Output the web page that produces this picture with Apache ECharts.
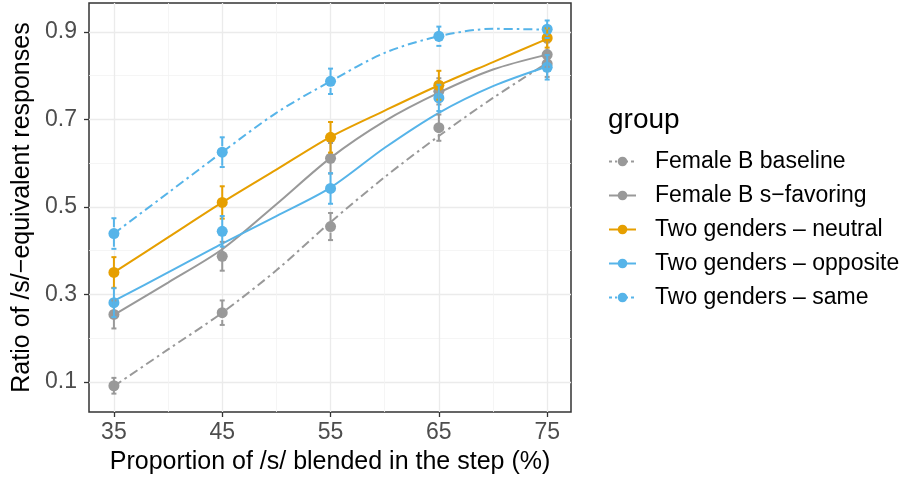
<!DOCTYPE html>
<html>
<head>
<meta charset="utf-8">
<script src="https://cdn.jsdelivr.net/npm/echarts@6/dist/echarts.min.js"></script>
<style>
  html, body { margin: 0; padding: 0; background: #fff; }
  #chart { width: 906px; height: 480px; }
</style>
</head>
<body>
<div id="chart"></div>
<script>
// 数据
var groups = ['Female B baseline', 'Female B s\u2212favoring', 'Two genders \u2013 neutral', 'Two genders \u2013 opposite', 'Two genders \u2013 same'];
var steps = [35, 45, 55, 65, 75];
var fitSteps = [35, 40, 45, 50, 55, 60, 65, 70, 75];
var majorX = [35, 45, 55, 65, 75];
var minorX = [40, 50, 60, 70];
var majorY = [0.1, 0.3, 0.5, 0.7, 0.9];
var minorY = [0.2, 0.4, 0.6, 0.8];

// 各组观测均值和误差
var baselinePts = [0.091, 0.258, 0.455, 0.681, 0.827];
var baselineErr = [0.018, 0.028, 0.031, 0.03, 0.03];
var sfavPts = [0.254, 0.387, 0.611, 0.764, 0.848];
var sfavErr = [0.032, 0.033, 0.035, 0.03, 0.028];
var neutralPts = [0.35, 0.51, 0.659, 0.778, 0.886];
var neutralErr = [0.035, 0.037, 0.035, 0.033, 0.022];
var oppositePts = [0.281, 0.444, 0.542, 0.749, 0.819];
var oppositeErr = [0.033, 0.035, 0.035, 0.03, 0.028];
var samePts = [0.439, 0.625, 0.787, 0.890, 0.906];
var sameErr = [0.035, 0.034, 0.029, 0.022, 0.02];

// 拟合曲线
var baselineFit = [0.09, 0.174, 0.258, 0.355, 0.465, 0.568, 0.662, 0.749, 0.829];
var sfavFit = [0.253, 0.327, 0.403, 0.506, 0.612, 0.696, 0.761, 0.814, 0.848];
var neutralFit = [0.35, 0.43, 0.51, 0.585, 0.66, 0.72, 0.778, 0.831, 0.884];
var oppositeFit = [0.285, 0.35, 0.416, 0.479, 0.544, 0.635, 0.715, 0.776, 0.821];
var sameFit = [0.439, 0.532, 0.625, 0.715, 0.787, 0.852, 0.89, 0.907, 0.905];

var GRAY = '#999999', ORANGE = '#E69F00', BLUE = '#56B4E9';
var DOTDASH = [9, 4, 2.5, 4];
var FONT = '"Liberation Sans", Arial, Helvetica, sans-serif';

var myChart = echarts.init(document.getElementById('chart'), null, { renderer: 'canvas' });

function zip(xs, ys) {
    return xs.map(function (x, i) { return [x, ys[i]]; });
}

function fitLine(name, color, ys, dash) {
    return {
        name: name,
        type: 'line',
        data: zip(fitSteps, ys),
        smooth: 0.3,
        showSymbol: false,
        symbol: 'circle',
        symbolSize: 10,
        silent: true,
        z: 2,
        itemStyle: { color: color },
        lineStyle: { color: color, width: 2, type: dash || 'solid' }
    };
}

function points(name, color, ys) {
    return {
        name: name,
        type: 'scatter',
        data: zip(steps, ys),
        symbol: 'circle',
        symbolSize: 11,
        z: 3,
        itemStyle: { color: color, opacity: 1 }
    };
}

function errorBars(name, color, ys, err, dash) {
    return {
        name: name,
        type: 'custom',
        z: 4,
        encode: { x: 0, y: [1, 2] },
        data: steps.map(function (x, i) { return [x, ys[i] - err[i], ys[i] + err[i]]; }),
        renderItem: function (params, api) {
            var hi = api.coord([api.value(0), api.value(2)]);
            var lo = api.coord([api.value(0), api.value(1)]);
            var w = 2.5;
            var st = { stroke: color, lineWidth: 2, lineDash: dash || null };
            return {
                type: 'group',
                children: [
                    { type: 'line', shape: { x1: hi[0], y1: hi[1], x2: lo[0], y2: lo[1] }, style: st },
                    { type: 'line', shape: { x1: hi[0] - w, y1: hi[1], x2: hi[0] + w, y2: hi[1] }, style: { stroke: color, lineWidth: 2 } },
                    { type: 'line', shape: { x1: lo[0] - w, y1: lo[1], x2: lo[0] + w, y2: lo[1] }, style: { stroke: color, lineWidth: 2 } }
                ]
            };
        }
    };
}

var series = [
    fitLine(groups[0], GRAY, baselineFit, DOTDASH),
    fitLine(groups[1], GRAY, sfavFit),
    fitLine(groups[2], ORANGE, neutralFit),
    fitLine(groups[3], BLUE, oppositeFit),
    fitLine(groups[4], BLUE, sameFit, DOTDASH),
    points(groups[0], GRAY, baselinePts),
    errorBars(groups[0], GRAY, baselinePts, baselineErr, DOTDASH),
    points(groups[1], GRAY, sfavPts),
    errorBars(groups[1], GRAY, sfavPts, sfavErr),
    points(groups[2], ORANGE, neutralPts),
    errorBars(groups[2], ORANGE, neutralPts, neutralErr),
    points(groups[3], BLUE, oppositePts),
    errorBars(groups[3], BLUE, oppositePts, oppositeErr),
    points(groups[4], BLUE, samePts),
    errorBars(groups[4], BLUE, samePts, sameErr, DOTDASH)
];

var legendDash = [[3, 3, 2, 3], null, null, null, [3, 3, 2, 3]];

var option = {
    animation: false,
    backgroundColor: '#ffffff',
    textStyle: { fontFamily: FONT },
    title: {
        text: 'group',
        left: 603,
        top: 101,
        textStyle: { fontSize: 28, fontWeight: 'normal', color: '#000', fontFamily: FONT }
    },
    legend: {
        data: groups.map(function (g, i) {
            return { name: g, lineStyle: { type: legendDash[i] || 'solid', width: 2 } };
        }),
        orient: 'vertical',
        left: 608,
        top: 150,
        padding: 0,
        itemWidth: 27,
        itemHeight: 12,
        itemGap: 11,
        selectedMode: false,
        textStyle: { fontSize: 23, lineHeight: 23, color: '#000', fontFamily: FONT, padding: [0, 0, 0, 14] }
    },
    grid: {
        left: 89, top: 3, right: 335, bottom: 67,
        show: true, borderColor: '#333333', borderWidth: 1.5, backgroundColor: '#fff'
    },
    xAxis: [{
        type: 'value',
        min: 32.7, max: 77.2,
        name: 'Proportion of /s/ blended in the step (%)',
        nameLocation: 'middle',
        nameGap: 38,
        nameTextStyle: { fontSize: 25, color: '#000', fontFamily: FONT },
        axisLine: { show: false },
        axisTick: { show: true, length: 5, customValues: majorX, lineStyle: { color: '#333', width: 1.3 } },
        axisLabel: { customValues: majorX, fontSize: 23, color: '#4D4D4D', margin: 9, fontFamily: FONT },
        splitLine: { show: true, lineStyle: { color: '#EBEBEB', width: 1.3 } }
    }, {
        type: 'value',
        min: 32.7, max: 77.2,
        position: 'bottom',
        axisLine: { show: false },
        axisTick: { show: false, customValues: minorX },
        axisLabel: { show: false, customValues: minorX },
        splitLine: { show: true, lineStyle: { color: '#F3F3F3', width: 0.8 } }
    }],
    yAxis: [{
        type: 'value',
        min: 0.031, max: 0.966,
        name: 'Ratio of /s/\u2212equivalent responses',
        nameLocation: 'middle',
        nameRotate: 90,
        nameGap: 52,
        nameTextStyle: { fontSize: 25, color: '#000', fontFamily: FONT },
        axisLine: { show: false },
        axisTick: { show: true, length: 5, customValues: majorY, lineStyle: { color: '#333', width: 1.3 } },
        axisLabel: { customValues: majorY, fontSize: 23, color: '#4D4D4D', margin: 12, fontFamily: FONT,
            formatter: function (v) { return v.toFixed(1); } },
        splitLine: { show: true, lineStyle: { color: '#EBEBEB', width: 1.3 } }
    }, {
        type: 'value',
        min: 0.031, max: 0.966,
        position: 'left',
        axisLine: { show: false },
        axisTick: { show: false, customValues: minorY },
        axisLabel: { show: false, customValues: minorY },
        splitLine: { show: true, lineStyle: { color: '#F3F3F3', width: 0.8 } }
    }],
    series: series
};

myChart.setOption(option);
</script>
</body>
</html>
